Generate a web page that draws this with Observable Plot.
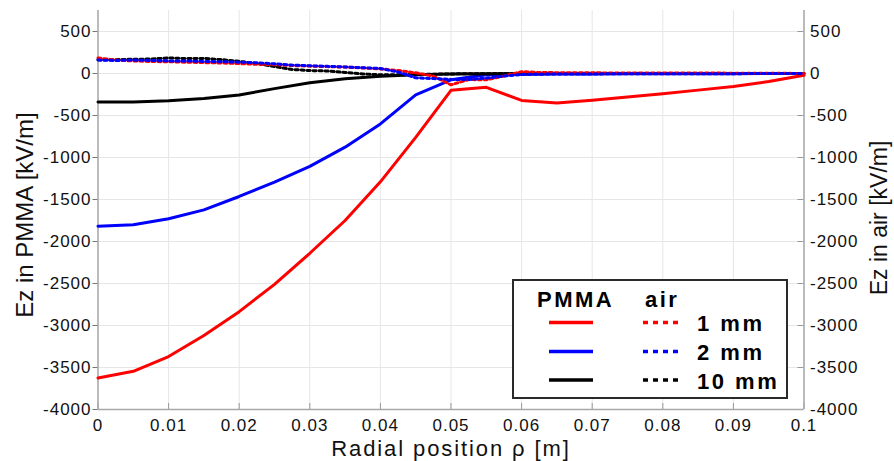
<!DOCTYPE html>
<html>
<head>
<meta charset="utf-8">
<script src="https://cdn.jsdelivr.net/npm/d3@7"></script>
<script src="https://cdn.jsdelivr.net/npm/@observablehq/plot@0.6"></script>
<style>
  body { margin: 0; background: #fff; }
  #chart svg { display: block; }
  #chart svg text { letter-spacing: 1px; }
</style>
</head>
<body>
<div id="chart"></div>
<script>
// Radial position ρ [m]
const xTicks = [0, 0.01, 0.02, 0.03, 0.04, 0.05, 0.06, 0.07, 0.08, 0.09, 0.1];
// Ez [kV/m]
const yTicks = [-4000, -3500, -3000, -2500, -2000, -1500, -1000, -500, 0, 500];
const xDomain = [0, 0.1];
const yDomain = [-4000, 750];

// Ez inside the PMMA layer, sampled every 5 mm
const xPMMA = [0, 0.005, 0.01, 0.015, 0.02, 0.025, 0.03, 0.035, 0.04, 0.045, 0.05,
  0.055, 0.06, 0.065, 0.07, 0.075, 0.08, 0.085, 0.09, 0.095, 0.1];
const pmma1mm = [-3625, -3545, -3370, -3120, -2835, -2510, -2140, -1750, -1290, -760, -200,
  -165, -320, -350, -318, -280, -240, -198, -155, -95, -22];
const pmma2mm = [-1817, -1800, -1730, -1623, -1464, -1294, -1105, -877, -600, -254, -75,
  -15, -8, -6, -5, -4, -3, -2, -2, -1, 0];
const pmma10mm = [-340, -338, -325, -298, -255, -180, -110, -62, -32, -14, -6,
  -3, -2, -1, -1, 0, 0, 0, 0, 0, 0];

// Ez in the air gap, sampled every 2.5 mm
const xAir = [0, 0.0025, 0.005, 0.0075, 0.01, 0.0125, 0.015, 0.0175, 0.02, 0.0225,
  0.025, 0.0275, 0.03, 0.0325, 0.035, 0.0375, 0.04, 0.0425, 0.045, 0.0475,
  0.05, 0.0525, 0.055, 0.0575, 0.06, 0.0625, 0.065, 0.0675, 0.07, 0.0725,
  0.075, 0.0775, 0.08, 0.0825, 0.085, 0.0875, 0.09, 0.0925, 0.095, 0.0975, 0.1];
const air1mm = [185, 160, 150, 143, 140, 135, 130, 125, 118, 110,
  105, 95, 88, 82, 76, 66, 55, 36, 8, -30,
  -135, -72, -75, -30, 22, 12, 10, 8, 8, 7,
  7, 6, 6, 5, 5, 5, 4, 4, 3, 2, 0];
const air2mm = [160, 155, 160, 155, 150, 150, 143, 140, 135, 128,
  115, 100, 92, 85, 78, 68, 60, 18, -52, -60,
  -70, -72, -55, -30, -12, -8, -6, -5, -5, -4,
  -4, -3, -3, -3, -2, -2, -2, -1, -1, -1, 0];
const air10mm = [165, 165, 170, 172, 185, 178, 180, 165, 145, 118,
  82, 48, 35, 30, 12, -5, -15, -15, -12, -8,
  -5, -3, -2, -1, 0, 0, 0, 0, 0, 0,
  0, 0, 0, 0, 0, 0, 0, 0, 0, 0, 0];

const gaps = ["1 mm", "2 mm", "10 mm"];
const colors = ["#ff0000", "#0000ff", "#000000"];

const toRows = (xs, vs) => xs.map((x, i) => ({x, v: vs[i]}));
const pmmaSeries = [pmma1mm, pmma2mm, pmma10mm].map(vs => toRows(xPMMA, vs));
const airSeries = [air1mm, air2mm, air10mm].map(vs => toRows(xAir, vs));

const W = 894, H = 461;
const mL = 97.5, mR = 90.5, mT = 10, mB = 52;
const plotW = W - mL - mR, plotH = H - mT - mB;
const fmt = d => String(d);

const solid = (rows, c) => Plot.line(rows, {x: "x", y: "v", stroke: c, strokeWidth: 3, strokeLinejoin: "round"});
const dotted = (rows, c) => Plot.line(rows, {x: "x", y: "v", stroke: c, strokeWidth: 3, strokeDasharray: "3,3"});

const chart = Plot.plot({
  width: W,
  height: H,
  marginLeft: mL,
  marginRight: mR,
  marginTop: mT,
  marginBottom: mB,
  x: {domain: xDomain},
  y: {domain: yDomain},
  style: {fontFamily: "'Liberation Sans', Arial, sans-serif", fontSize: "17px", color: "#111", background: "#fff"},
  marks: [
    Plot.gridX(xTicks, {stroke: "#e6e6e6", strokeOpacity: 1}),
    Plot.gridY(yTicks, {stroke: "#e6e6e6", strokeOpacity: 1}),
    // inward tick marks on the bottom and right edges
    Plot.tickX(xTicks, {x: d => d, stroke: "#999", insetTop: plotH - 6}),
    Plot.tickY(yTicks, {y: d => d, stroke: "#999", insetLeft: plotW - 6}),
    Plot.ruleX(xDomain, {stroke: "#a8a8a8", strokeWidth: 1.5}),
    Plot.ruleY([yDomain[0]], {stroke: "#a8a8a8", strokeWidth: 1.5}),
    Plot.axisX(xTicks, {anchor: "bottom", tickSize: 0, tickPadding: 9, tickFormat: fmt, label: null}),
    Plot.axisY(yTicks, {anchor: "left", tickSize: 5, tickPadding: 1.5, stroke: "#777", tickFormat: fmt, label: null}),
    Plot.axisY(yTicks, {anchor: "right", tickSize: 0, tickPadding: 6, tickFormat: fmt, label: null}),
    solid(pmmaSeries[0], colors[0]),
    solid(pmmaSeries[1], colors[1]),
    solid(pmmaSeries[2], colors[2]),
    dotted(airSeries[2], colors[2]),
    dotted(airSeries[0], colors[0]),
    dotted(airSeries[1], colors[1])
  ]
});

document.getElementById("chart").appendChild(chart);

// axis titles and the in-plot legend
const svg = d3.select(chart);
const font = "'Liberation Sans', Arial, sans-serif";

svg.append("text")
  .attr("x", 451).attr("y", 456)
  .attr("text-anchor", "middle")
  .attr("font-family", font).attr("font-size", 22)
  .style("letter-spacing", "1.9px")
  .attr("fill", "#111")
  .text("Radial position ρ [m]");

svg.append("text")
  .attr("transform", "translate(33,215) rotate(-90)")
  .attr("text-anchor", "middle")
  .attr("font-family", font).attr("font-size", 24)
  .style("letter-spacing", "0px")
  .attr("fill", "#111")
  .text("Ez in PMMA [kV/m]");

svg.append("text")
  .attr("transform", "translate(887,218) rotate(-90)")
  .attr("text-anchor", "middle")
  .attr("font-family", font).attr("font-size", 23)
  .style("letter-spacing", "0px")
  .attr("fill", "#111")
  .text("Ez in air [kV/m]");

const lg = svg.append("g");
lg.append("rect")
  .attr("x", 513).attr("y", 280).attr("width", 274).attr("height", 118)
  .attr("fill", "#fff").attr("stroke", "#2a2a2a").attr("stroke-width", 2);

const bold = (x, y, t) => lg.append("text")
  .attr("x", x).attr("y", y)
  .attr("text-anchor", "start")
  .attr("font-family", font).attr("font-size", 22).attr("font-weight", "bold")
  .style("letter-spacing", "2.5px")
  .attr("fill", "#000")
  .text(t);

bold(537, 307, "PMMA");
bold(645, 307, "air");

const rowY = [322.5, 351.5, 380];
gaps.forEach((g, i) => {
  lg.append("line")
    .attr("x1", 549).attr("x2", 593).attr("y1", rowY[i]).attr("y2", rowY[i])
    .attr("stroke", colors[i]).attr("stroke-width", 3.5);
  lg.append("line")
    .attr("x1", 643).attr("x2", 681).attr("y1", rowY[i]).attr("y2", rowY[i])
    .attr("stroke", colors[i]).attr("stroke-width", 3.5)
    .attr("stroke-dasharray", "5,5");
  bold(697, rowY[i] + 8.5, g);
});
</script>
</body>
</html>
